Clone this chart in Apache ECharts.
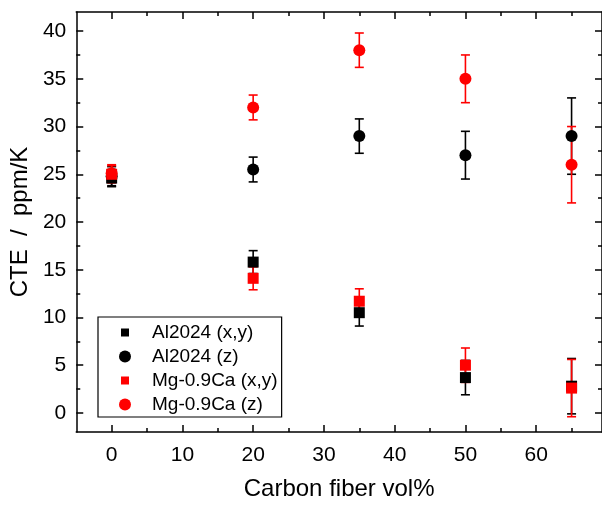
<!DOCTYPE html>
<html><head><meta charset="utf-8">
<script src="https://cdn.jsdelivr.net/npm/echarts@6/dist/echarts.min.js"></script>
<style>html,body{margin:0;padding:0;background:#fff}#c{width:602px;height:506px}</style>
</head><body><div id="c"></div>
<script>
const xVals = [0, 20, 35, 50, 65];
const alXY = [24.6, 15.8, 10.5, 3.7, 2.8];
const alXYErr = [0.9, 1.2, 1.4, 1.8, 2.9];
const alZ = [24.8, 25.5, 29.0, 27.0, 29.0];
const alZErr = [1.0, 1.3, 1.8, 2.5, 4.0];
const mgXY = [25.0, 14.1, 11.7, 5.0, 2.6];
const mgXYErr = [0.9, 1.2, 1.3, 1.8, 3.0];
const mgZ = [25.1, 32.0, 38.0, 35.0, 26.0];
const mgZErr = [0.9, 1.3, 1.8, 2.5, 4.0];
const xTicks = [0, 10, 20, 30, 40, 50, 60];
const xMinorTicks = [5, 15, 25, 35, 45, 55, 65];
const yTicks = [0, 5, 10, 15, 20, 25, 30, 35, 40];
const yMinorTicks = [2.5, 7.5, 12.5, 17.5, 22.5, 27.5, 32.5, 37.5];

const FONT = '"Liberation Sans", Arial, sans-serif';
const AX = '#000';
const XMIN = -5, XMAX = 69.3, YMIN = -2, YMAX = 42;
function xa(pos, ticks, len, showLabel, showLine) {
  return {
    type: 'value', position: pos, min: XMIN, max: XMAX,
    axisLine: {show: showLine, onZero: false, lineStyle: {color: AX, width: 1.5}},
    axisTick: {show: true, inside: true, length: len, customValues: ticks, lineStyle: {color: AX, width: 1.5}},
    axisLabel: {show: showLabel, customValues: ticks, fontFamily: FONT, fontSize: 21, color: '#000', margin: 13},
    splitLine: {show: false}
  };
}
function ya(pos, ticks, len, showLabel, showLine) {
  return {
    type: 'value', position: pos, min: YMIN, max: YMAX,
    axisLine: {show: showLine, onZero: false, lineStyle: {color: AX, width: 1.5}},
    axisTick: {show: true, inside: true, length: len, customValues: ticks, lineStyle: {color: AX, width: 1.5}},
    axisLabel: {show: showLabel, customValues: ticks, fontFamily: FONT, fontSize: 21, color: '#000', margin: 10},
    splitLine: {show: false}
  };
}
const xAxes = [xa('bottom', xTicks, 7, true, true), xa('bottom', xMinorTicks, 4, false, false),
               xa('top', xTicks, 7, false, true), xa('top', xMinorTicks, 4, false, false)];
xAxes[0].name = 'Carbon fiber vol%';
xAxes[0].nameLocation = 'middle';
xAxes[0].nameGap = 45;
xAxes[0].nameTextStyle = {fontFamily: FONT, fontSize: 24, color: '#000'};
const yAxes = [ya('left', yTicks, 7, true, true), ya('left', yMinorTicks, 4, false, false),
               ya('right', yTicks, 7, false, true), ya('right', yMinorTicks, 4, false, false)];
yAxes[0].name = 'CTE  /  ppm/K';
yAxes[0].nameLocation = 'middle';
yAxes[0].nameGap = 40;
yAxes[0].nameTextStyle = {fontFamily: FONT, fontSize: 24, color: '#000'};

function errSeries(vals, errs, color) {
  return {
    type: 'custom', xAxisIndex: 0, yAxisIndex: 0, silent: true,
    data: xVals.map((x, i) => [x, vals[i], errs[i]]),
    renderItem: function (params, api) {
      const x = api.value(0), v = api.value(1), e = api.value(2);
      const hi = api.coord([x, v + e]);
      const lo = api.coord([x, v - e]);
      const w = 4.5;
      const st = {stroke: color, lineWidth: 1.6};
      return {type: 'group', children: [
        {type: 'line', shape: {x1: hi[0], y1: hi[1], x2: lo[0], y2: lo[1]}, style: st},
        {type: 'line', shape: {x1: hi[0] - w, y1: hi[1], x2: hi[0] + w, y2: hi[1]}, style: st},
        {type: 'line', shape: {x1: lo[0] - w, y1: lo[1], x2: lo[0] + w, y2: lo[1]}, style: st}
      ]};
    }
  };
}
function ptSeries(name, vals, color, symbol, size) {
  return {
    name: name, type: 'scatter', xAxisIndex: 0, yAxisIndex: 0,
    symbol: symbol, symbolSize: size,
    itemStyle: {color: color, opacity: 1},
    data: xVals.map((x, i) => [x, vals[i]])
  };
}
const SQ_ICON = 'path://M0,0M2,2L10,2L10,10L2,10ZM12,12';
const chart = echarts.init(document.getElementById('c'), null, {renderer: 'canvas'});
chart.setOption({
  animation: false,
  backgroundColor: '#fff',
  grid: {left: 74, top: 12, width: 530, height: 425, containLabel: false},
  xAxis: xAxes,
  yAxis: yAxes,
  legend: {
    orient: 'vertical', left: 98, top: 317,
    padding: [6, 4, 3, 21],
    itemGap: 5, itemWidth: 12, itemHeight: 12,
    symbolKeepAspect: true,
    borderColor: '#000', borderWidth: 1.2, borderRadius: 0,
    textStyle: {fontFamily: FONT, fontSize: 19, color: '#000', padding: [0, 0, 0, 16]},
    data: [
      {name: 'Al2024 (x,y)', icon: SQ_ICON},
      {name: 'Al2024 (z)', icon: 'circle'},
      {name: 'Mg-0.9Ca (x,y)', icon: SQ_ICON},
      {name: 'Mg-0.9Ca (z)', icon: 'circle'}
    ]
  },
  series: [
    errSeries(alXY, alXYErr, '#000'), ptSeries('Al2024 (x,y)', alXY, '#000', 'rect', 11),
    errSeries(alZ, alZErr, '#000'), ptSeries('Al2024 (z)', alZ, '#000', 'circle', 12),
    errSeries(mgXY, mgXYErr, '#ff0000'), ptSeries('Mg-0.9Ca (x,y)', mgXY, '#ff0000', 'rect', 11),
    errSeries(mgZ, mgZErr, '#ff0000'), ptSeries('Mg-0.9Ca (z)', mgZ, '#ff0000', 'circle', 12)
  ]
});
</script></body></html>
